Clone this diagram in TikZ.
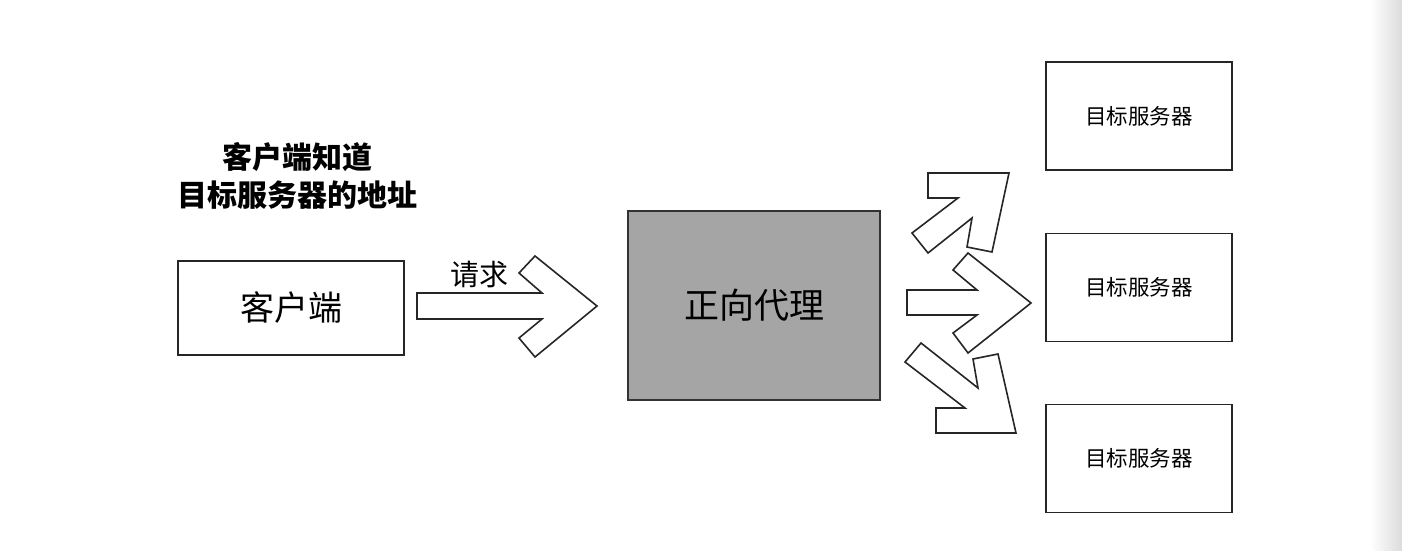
\documentclass[tikz,border=0pt]{standalone}
\usepackage{fontspec}
\setmainfont{Noto Sans CJK SC}
\usepackage{xcolor}
\usetikzlibrary{positioning}
\definecolor{proxygray}{HTML}{A5A5A5}
\tikzset{
  plainbox/.style={draw=black!85,fill=white,line width=1.6pt,inner sep=0pt},
  proxybox/.style={draw=black!80,fill=proxygray,line width=1.6pt,inner sep=0pt},
  blockarrow/.style={draw=black!85,fill=white,line width=1.6pt,line join=miter},
  serverbox/.style={plainbox,minimum width=186pt,minimum height=108pt,font=\fontsize{21.5}{24}\selectfont},
  notelabel/.style={font=\bfseries\fontsize{30}{38}\selectfont,align=center}
}

\begin{document}
\begin{tikzpicture}[x=1pt,y=-1pt]
  \useasboundingbox (0,0) rectangle (1402,550);
  \fill[white] (0,0) rectangle (1402,550);
  \shade[left color=white,right color=black!14] (1370,0) rectangle (1402,550);
  % left side
  \node[notelabel] (note) at (297,176) {客户端知道\\目标服务器的地址};
  \node[plainbox,minimum width=226pt,minimum height=94pt,font=\fontsize{34}{38}\selectfont] (client) at (291,308) {客户端};
  \node[font=\fontsize{29}{32}\selectfont] (req) at (479,275) {请求};
  \draw[blockarrow] (417,293) -- (542,293) -- (519,273) -- (535,256) -- (597,306)
    -- (535,357) -- (519,338) -- (542,319) -- (417,319) -- cycle;
  % proxy
  \node[proxybox,minimum width=252pt,minimum height=189pt,font=\fontsize{35}{40}\selectfont] (proxy) at (754,305.5) {正向代理};
  % servers
  \node[serverbox] (srvA) at (1139,116) {目标服务器};
  \node[serverbox] (srvB) at (1139,287.5) {目标服务器};
  \node[serverbox] (srvC) at (1139,458.5) {目标服务器};
  % fan-out arrows
  \draw[blockarrow] (912,233) -- (958,198) -- (928,198) -- (928,173) -- (1009,173)
    -- (992,252) -- (967,247) -- (972,218) -- (928,253) -- cycle;
  \draw[blockarrow] (907,290) -- (977,290) -- (953,270) -- (968,253) -- (1031,303)
    -- (968,353) -- (953,333) -- (977,315) -- (907,315) -- cycle;
  \draw[blockarrow] (921,343) -- (978,388) -- (973,359) -- (998,354) -- (1016,433)
    -- (936,433) -- (936,408) -- (965,408) -- (905,362) -- cycle;
\end{tikzpicture}
\end{document}
